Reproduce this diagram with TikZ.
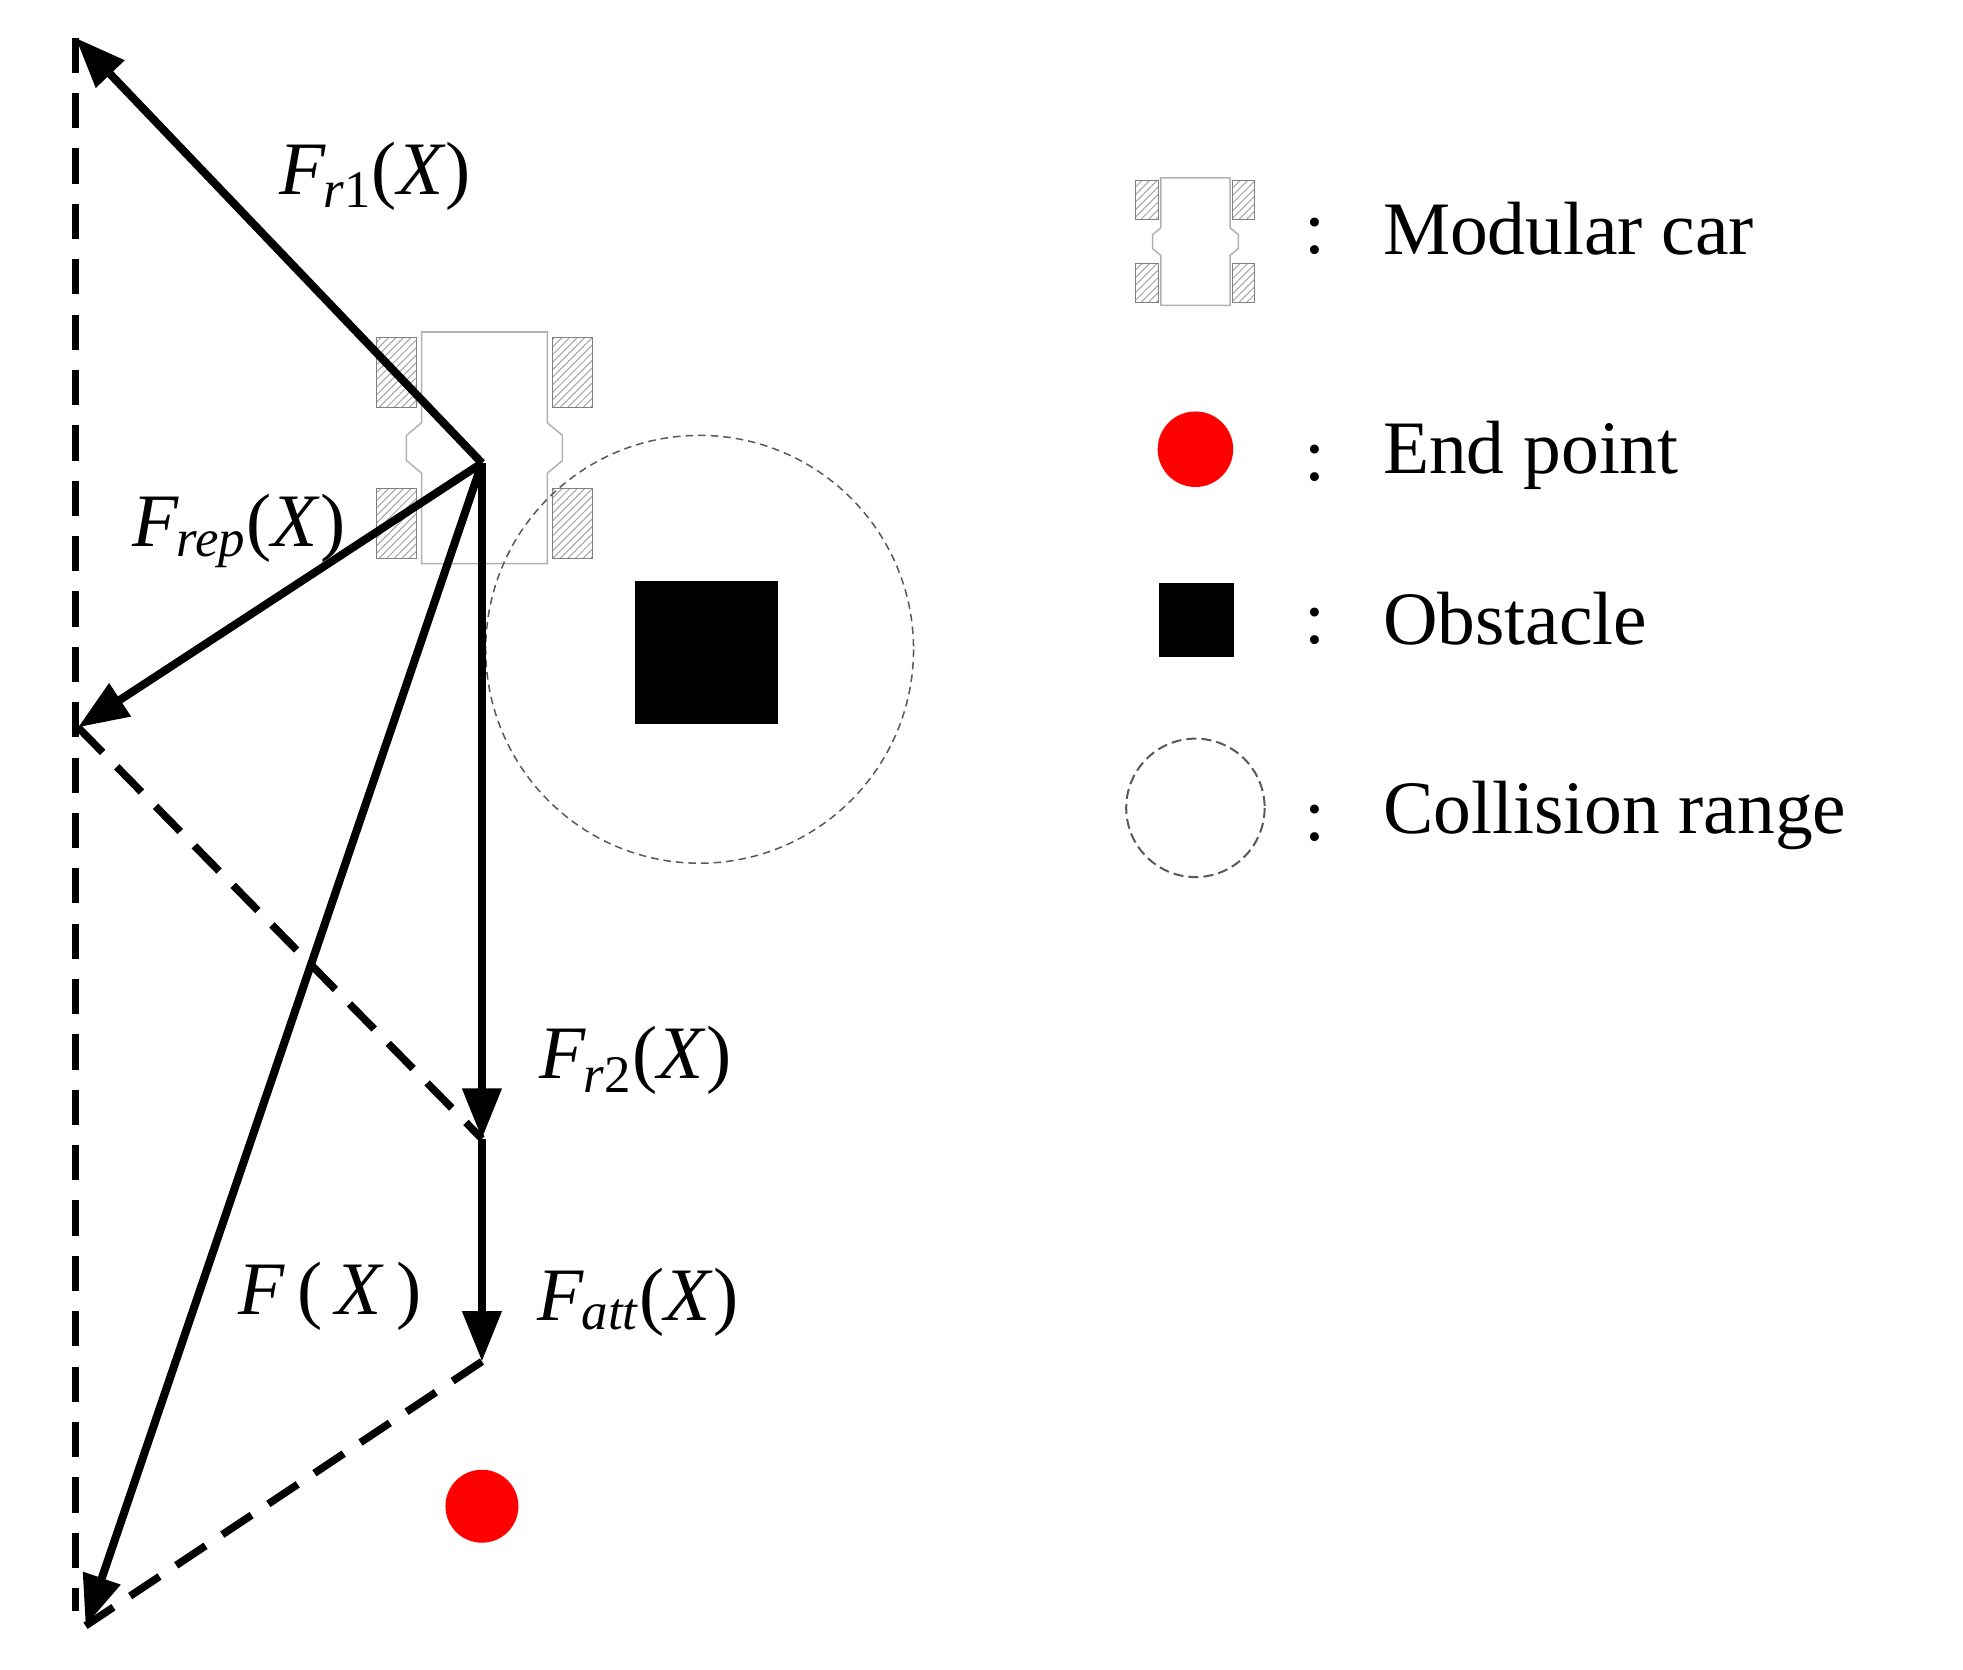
\documentclass[tikz,border=0pt]{standalone}
\usepackage{fontspec}
\setmainfont{Liberation Serif}
\usetikzlibrary{arrows.meta,patterns}
\newcommand{\vx}[2]{\textit{F}\textsubscript{\kern-1pt\textit{#1}#2}(\textit{X})}
\begin{document}
\begin{tikzpicture}[x=0.5pt,y=-0.5pt,
 vec/.style={line width=3.2pt,-{Triangle[length=20pt,width=15pt]}},
 dsh/.style={line width=3pt,dash pattern=on 14pt off 8pt},
 lab/.style={font=\fontsize{30}{32}\selectfont},
 leg/.style={font=\fontsize{30}{32}\selectfont,anchor=west},
 wheel/.style={draw=gray,fill=white,pattern=north east lines,pattern color=gray!70},
 car/.pic={
  \draw[gray!60,line width=0.6pt] (-50,-92) rectangle (50,92);
  \draw[gray!60,fill=white,line width=0.6pt] (-50,-92) -- (50,-92) -- (50,-20) -- (62,-10) -- (62,10) -- (50,20) -- (50,92) -- (-50,92) -- (-50,20) -- (-62,10) -- (-62,-10) -- (-50,-20) -- cycle;
  \foreach \sx in {-1,1}{\foreach \sy in {-1,1}{
   \draw[wheel] ({\sx*70-16},{\sy*60-28}) rectangle ({\sx*70+16},{\sy*60+28});}}
 }]
\useasboundingbox (0,0) rectangle (1560,1327);
\pic[scale=1] at (385,356) {car};
\draw[gray!70!black,dash pattern=on 3pt off 2pt,line width=0.6pt] (556,516) circle (170);
\fill (505,462) rectangle (618,575);
\node[fill=red,circle,minimum size=29pt,inner sep=0] (goal) at (383,1197) {};
\coordinate (O) at (383,368);
\coordinate (A) at (60,30);
\coordinate (B) at (62,578);
\coordinate (C) at (383,905);
\coordinate (D) at (383,1082);
\coordinate (E) at (68,1292);
\draw[dsh] (A) -- (60,1280);
\draw[dsh] (B) -- (C);
\draw[dsh] (D) -- (E);
\draw[vec] (O) -- (A);
\draw[vec] (O) -- (B);
\draw[vec] (O) -- (C);
\draw[vec] (C) -- (D);
\draw[vec] (O) -- (E);
\node[lab] (l1) at (298,140) {\vx{r}{1}};
\node[lab] (l2) at (190,422) {\vx{rep}{}};
\node[lab] (l3) at (505,843) {\vx{r}{2}};
\node[lab] (l4) at (262,1030) {\textit{F}\,(\,\textit{X}\,)};
\node[lab] (l5) at (507,1035) {\vx{att}{}};
\pic[scale=0.55] at (950,192) {car};
\node[fill=red,circle,minimum size=30pt,inner sep=0] (lr) at (950,357) {};
\fill (921,463) rectangle (981,522);
\draw[gray!70!black,dash pattern=on 4pt off 2pt,line width=0.8pt] (950,642) circle (55);
\foreach \y/\t in {182/Modular car,362/End point,492/Obstacle,648/Collision range}{
 \node[leg] at (1030,\y+6) {:};
 \node[leg] at (1092,\y) {\t};}
\end{tikzpicture}
\end{document}
